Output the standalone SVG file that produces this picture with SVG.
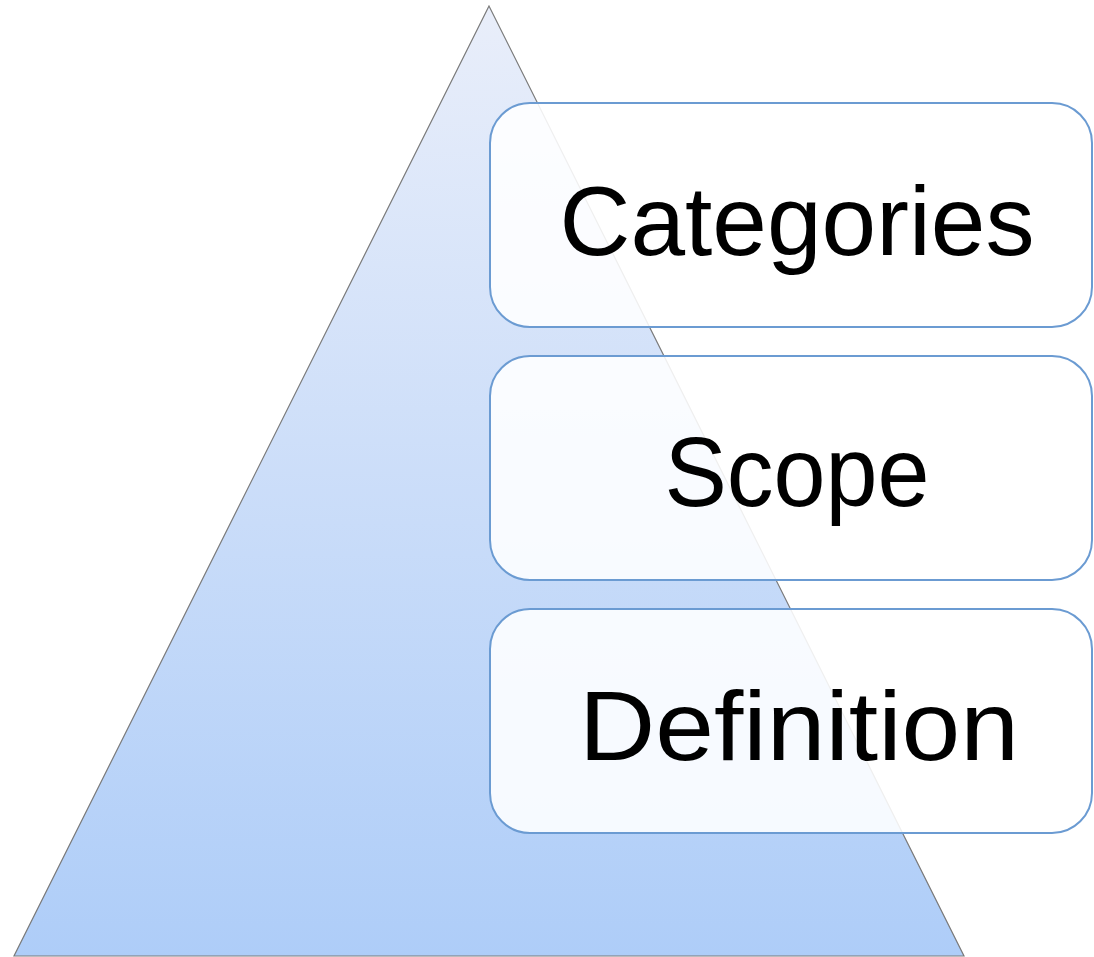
<svg xmlns="http://www.w3.org/2000/svg" width="1094" height="957" viewBox="0 0 1094 957">
<defs>
<linearGradient id="tri" x1="0" y1="0" x2="0" y2="1">
<stop offset="0" stop-color="#e9eefa"/>
<stop offset="1" stop-color="#aecdf8"/>
</linearGradient>
</defs>
<style>
.box{fill:#ffffff;fill-opacity:0.88;stroke:#6b9bd2;stroke-width:2}
.lbl{font-family:"Liberation Sans",Arial,sans-serif;font-size:98px;fill:#000;text-anchor:middle}
</style>
<rect width="1094" height="957" fill="#ffffff"/>
<g id="pyramid">
<polygon points="489,6 14,956 964,956" fill="url(#tri)" stroke="#7a7a7a" stroke-width="1.2"/>
</g>
<g id="connectors"></g>
<g id="categories">
<rect class="box" x="490" y="103" width="602" height="224" rx="40"/>
<text class="lbl" x="797" y="255" textLength="475" lengthAdjust="spacingAndGlyphs">Categories</text>
</g>
<g id="scope">
<rect class="box" x="490" y="356" width="602" height="224" rx="40"/>
<text class="lbl" x="797" y="506" textLength="265" lengthAdjust="spacingAndGlyphs">Scope</text>
</g>
<g id="definition">
<rect class="box" x="490" y="609" width="602" height="224" rx="40"/>
<text class="lbl" x="799" y="760" textLength="440" lengthAdjust="spacingAndGlyphs">Definition</text>
</g>
</svg>
